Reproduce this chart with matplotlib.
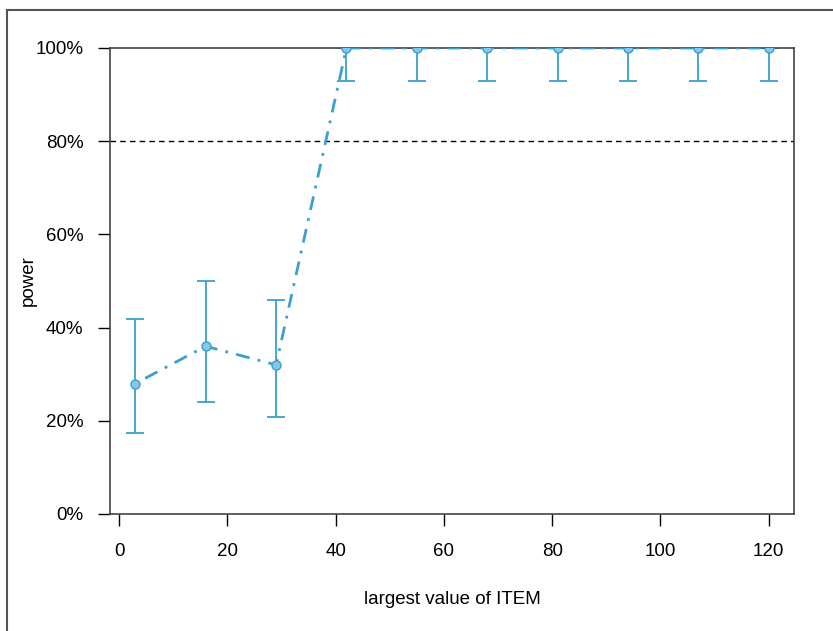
import numpy as np
import matplotlib
matplotlib.use("Agg")
import matplotlib.pyplot as plt
from matplotlib.lines import Line2D

plt.rcParams.update({
    "font.family": ["Liberation Sans", "DejaVu Sans"],
    "font.size": 13.5,
})

# data
item_max = [3, 16, 29, 42, 55, 68, 81, 94, 107, 120]
power    = [0.28, 0.36, 0.32, 1.0, 1.0, 1.0, 1.0, 1.0, 1.0, 1.0]
ci_low   = [0.174, 0.24, 0.208, 0.929, 0.929, 0.929, 0.929, 0.929, 0.929, 0.929]
ci_high  = [0.418, 0.50, 0.459, 1.0, 1.0, 1.0, 1.0, 1.0, 1.0, 1.0]
target   = 0.80
yticks   = [0, 0.2, 0.4, 0.6, 0.8, 1.0]
xticks   = [0, 20, 40, 60, 80, 100, 120]

LINE = "#3aa0d0"
FACE = "#86c8e8"

fig = plt.figure(figsize=(8.33, 6.31), dpi=100)
ax = fig.add_axes([110 / 833, 117 / 631, 684 / 833, 466 / 631])

# outer frame (top and left edges of the screenshot)
fig.add_artist(Line2D([7 / 833, 1], [1 - 9.5 / 631] * 2, color="#555555", lw=1.5,
                      transform=fig.transFigure))
fig.add_artist(Line2D([7 / 833] * 2, [0, 1 - 9.5 / 631], color="#555555", lw=1.5,
                      transform=fig.transFigure))

x = np.array(item_max)
p = np.array(power)
lo = np.array(ci_low)
hi = np.array(ci_high)

ax.axhline(target, color="black", lw=1, ls=(0, (4, 3)), zorder=1)
ax.errorbar(x, p, yerr=[p - lo, hi - p], fmt="none", ecolor=LINE, elinewidth=1.3,
            capsize=6.5, capthick=1.3, zorder=2)
ax.plot(x, p, color=LINE, lw=2, dashes=(1, 3, 5, 3), zorder=3)
ax.plot(x, p, "o", ms=6.5, mfc=FACE, mec=LINE, mew=1, zorder=4)

span = x.max() - x.min()
ax.set_xlim(x.min() - 0.04 * span, x.max() + 0.04 * span)
ax.set_ylim(0, 1)

ax.set_xticks(xticks)
ax.set_yticks(yticks)
ax.set_yticklabels([f"{int(round(v * 100))}%" for v in yticks])
ax.tick_params(axis="x", length=8.6, width=1, pad=12)
ax.tick_params(axis="y", length=8.6, width=1, pad=10.5)
for s in ax.spines.values():
    s.set_color("#444444")
    s.set_linewidth(1.2)

ax.set_xlabel("largest value of ITEM")
ax.set_ylabel("power")
ax.xaxis.label.set_va("center")
ax.yaxis.label.set_va("center")
ax.xaxis.set_label_coords(0.5, (514 - 600) / 466)
ax.yaxis.set_label_coords((28.5 - 110) / 684, 0.5)

fig.savefig("out.png", dpi=100)
